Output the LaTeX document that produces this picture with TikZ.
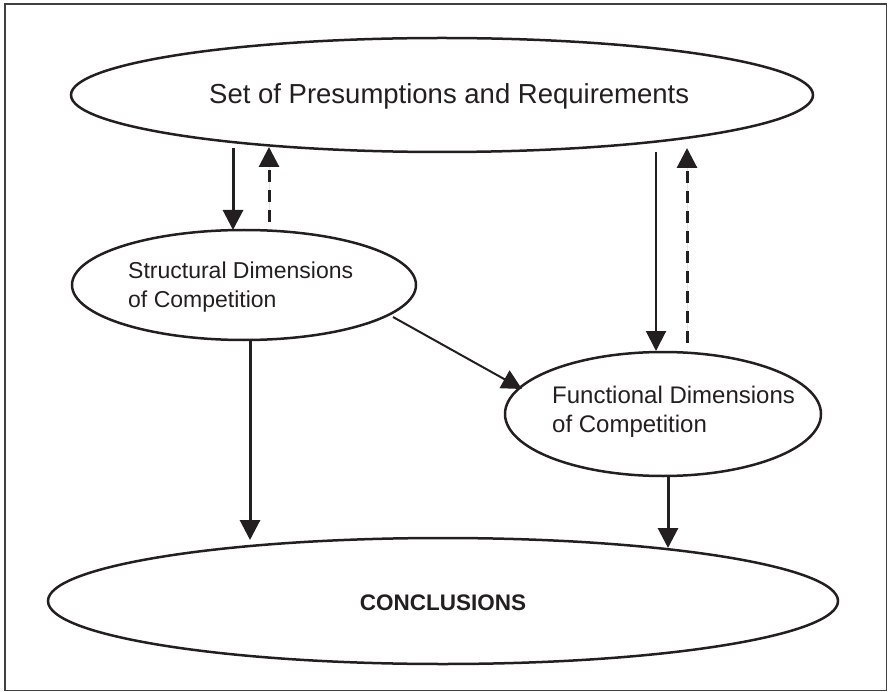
\documentclass[tikz,border=0pt]{standalone}
\usepackage{fontspec}
\setmainfont{Liberation Sans}
\usetikzlibrary{shapes.geometric,arrows.meta,calc}
\definecolor{ink}{HTML}{231F20}
\begin{document}
\begin{tikzpicture}[x=1pt,y=-1pt,
  oval/.style={ellipse,draw=ink,line width=2.5pt,inner sep=0pt,outer sep=0pt},
  lbl/.style={font=\fontsize{23}{28.5}\selectfont,text=ink,align=left,inner sep=0pt},
  bigtip/.style={-{Triangle[length=20pt,width=20pt]}},
  thickarrow/.style={draw=ink,fill=ink,line width=3pt,bigtip},
  thinarrow/.style={draw=ink,fill=ink,line width=2pt,bigtip},
  dasharrow/.style={draw=ink,fill=ink,line width=3pt,dash pattern=on 12pt off 8pt,bigtip}]
\useasboundingbox (0,0) rectangle (888,692);
% outer frame
\draw[line width=1.6pt,draw=black!75] (5,4) rectangle (886.5,690.5);

% ellipses
\node[oval,minimum width=742pt,minimum height=114pt] (top) at (442,95) {};
\node[oval,minimum width=344pt,minimum height=110pt] (struct) at (244,285) {};
\node[oval,minimum width=316pt,minimum height=124pt] (func) at (663,414) {};
\node[oval,minimum width=790pt,minimum height=126pt] (concl) at (443,601) {};

% labels
\node[lbl,font=\fontsize{27.5}{33}\selectfont,anchor=west] (toptext) at (209,96) {Set of Presumptions and Requirements};
\node[lbl,anchor=west] (structtext) at (128,287) {Structural Dimensions\\of Competition};
\node[lbl,font=\fontsize{24}{29.5}\selectfont,anchor=west] (functext) at (552,412) {Functional Dimensions\\of Competition};
\node[lbl,font=\fontsize{22.5}{29}\bfseries] (concltext) at (443,603) {CONCLUSIONS};

% connectors (end points given relative to the ellipse centres)
\draw[thickarrow] ($(top.center)+(-209,53)$) -- ($(struct.center)+(-11,-55)$);
\draw[dasharrow] ($(struct.center)+(25,-63)$) -- ($(top.center)+(-173,52)$);
\draw[thinarrow] ($(top.center)+(214,57)$) -- ($(func.center)+(-7,-63)$);
\draw[dasharrow] ($(func.center)+(24,-71)$) -- ($(top.center)+(245,53)$);
\draw[thinarrow] ($(struct.center)+(149,32)$) -- ($(func.center)+(-141,-25)$);
\draw[thickarrow] ($(struct.center)+(6,55)$) -- ($(concl.center)+(-193,-61)$);
\draw[thickarrow] ($(func.center)+(5,62)$) -- ($(concl.center)+(225,-53)$);
\end{tikzpicture}
\end{document}
